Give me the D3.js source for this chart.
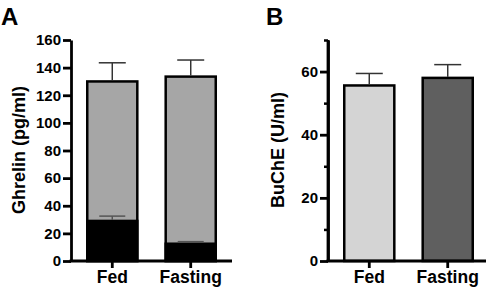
<!DOCTYPE html>
<html>
<head>
<meta charset="utf-8">
<script src="https://cdn.jsdelivr.net/npm/d3@7"></script>
<style>
  html, body { margin: 0; padding: 0; background: #fff; }
  svg { display: block; font-family: "Liberation Sans", Arial, sans-serif; }
</style>
</head>
<body>
<svg id="chart" width="490" height="290"></svg>
<script>
// ---- data ----
const categories = ["Fed", "Fasting"];
const ghrelinTotal = [130, 133.5];
const ghrelinTotalErr = [13.5, 12];
const ghrelinAcyl = [29, 12.5];
const ghrelinAcylErr = [3.5, 1.5];
const bucheValues = [55.6, 58];
const bucheErr = [3.8, 4.2];
const yTicksA = [0, 20, 40, 60, 80, 100, 120, 140, 160];
const yTicksB = [0, 20, 40, 60];
const yMinorTicksB = [10, 30, 50, 70];
const colorsA = ["#a6a6a6", "#000000"];
const colorsB = ["#d4d4d4", "#5f5f5f"];

const svg = d3.select("#chart");
const baseY = 261;

function styleAxis(g, w) {
  g.selectAll("path.domain").attr("stroke", "#000").attr("stroke-width", w);
  g.selectAll(".tick line").attr("stroke", "#000").attr("stroke-width", w);
  g.selectAll(".tick text").attr("fill", "#000").attr("font-weight", "bold")
    .attr("font-family", "'Liberation Sans', Arial, sans-serif");
}

function errorBar(g, cx, yTop, yBar, cap, color) {
  g.append("line").attr("x1", cx).attr("x2", cx).attr("y1", yBar).attr("y2", yTop)
    .attr("stroke", color).attr("stroke-width", 1.5);
  g.append("line").attr("x1", cx - cap / 2).attr("x2", cx + cap / 2).attr("y1", yTop).attr("y2", yTop)
    .attr("stroke", color).attr("stroke-width", 1.5);
}

// ---------------- Panel A ----------------
const axA = 71, xEndA = 232;
const yA = d3.scaleLinear().domain([0, 160]).range([baseY, 40]);
const xA = d3.scaleBand().domain(categories).range([86, 217]).paddingInner(0.33);
const gA = svg.append("g");

categories.forEach((c, i) => {
  const x0 = xA(c), bw = xA.bandwidth();
  gA.append("rect").attr("x", x0 + 1.25).attr("y", yA(ghrelinTotal[i]))
    .attr("width", bw - 2.5).attr("height", baseY - yA(ghrelinTotal[i]))
    .attr("fill", colorsA[0]).attr("stroke", "#000").attr("stroke-width", 2.5);
  gA.append("rect").attr("x", x0 + 1.25).attr("y", yA(ghrelinAcyl[i]))
    .attr("width", bw - 2.5).attr("height", baseY - yA(ghrelinAcyl[i]))
    .attr("fill", colorsA[1]).attr("stroke", "#000").attr("stroke-width", 2.5);
});
categories.forEach((c, i) => {
  const cx = xA(c) + xA.bandwidth() / 2;
  errorBar(gA, cx, yA(ghrelinTotal[i] + ghrelinTotalErr[i]), yA(ghrelinTotal[i]) - 1, 27, "#333");
  errorBar(gA, cx, yA(ghrelinAcyl[i] + ghrelinAcylErr[i]), yA(ghrelinAcyl[i]) - 1, 26, "#555");
});

const yAxisA = gA.append("g").attr("transform", `translate(${axA},0)`)
  .call(d3.axisLeft(yA).tickValues(yTicksA).tickSize(8).tickSizeOuter(0).tickPadding(2));
yAxisA.selectAll(".tick text").attr("font-size", 15);
styleAxis(yAxisA, 2.8);
gA.append("line").attr("x1", axA - 1.4).attr("x2", xEndA).attr("y1", baseY).attr("y2", baseY)
  .attr("stroke", "#000").attr("stroke-width", 2.8);
const xAxisA = gA.append("g").attr("transform", `translate(0,${baseY})`)
  .call(d3.axisBottom(xA).tickSize(7).tickPadding(3));
xAxisA.select("path.domain").remove();
xAxisA.selectAll(".tick text").attr("font-size", 17.5);
styleAxis(xAxisA, 2.8);

gA.append("text").attr("transform", `translate(25,150) rotate(-90)`)
  .attr("text-anchor", "middle").attr("font-size", 18).attr("font-weight", "bold")
  .text("Ghrelin (pg/ml)");
gA.append("text").attr("x", 1).attr("y", 25).attr("font-size", 24).attr("font-weight", "bold")
  .text("A");

// ---------------- Panel B ----------------
const axB = 328, xEndB = 486;
const yB = d3.scaleLinear().domain([0, 70]).range([baseY, 40]);
const xB = d3.scaleBand().domain(categories).range([343, 474]).paddingInner(0.33);
const gB = svg.append("g");

categories.forEach((c, i) => {
  const x0 = xB(c), bw = xB.bandwidth();
  gB.append("rect").attr("x", x0 + 1.25).attr("y", yB(bucheValues[i]))
    .attr("width", bw - 2.5).attr("height", baseY - yB(bucheValues[i]))
    .attr("fill", colorsB[i]).attr("stroke", "#000").attr("stroke-width", 2.5);
});
categories.forEach((c, i) => {
  const cx = xB(c) + xB.bandwidth() / 2;
  errorBar(gB, cx, yB(bucheValues[i] + bucheErr[i]), yB(bucheValues[i]) - 1, 27, "#333");
});

const yAxisB = gB.append("g").attr("transform", `translate(${axB},0)`)
  .call(d3.axisLeft(yB).tickValues(yTicksB).tickSize(8).tickSizeOuter(0).tickPadding(2));
yAxisB.selectAll(".tick text").attr("font-size", 15);
styleAxis(yAxisB, 2.8);
const yAxisBMinor = gB.append("g").attr("transform", `translate(${axB},0)`)
  .call(d3.axisLeft(yB).tickValues(yMinorTicksB).tickSize(4).tickFormat(""));
yAxisBMinor.select("path.domain").remove();
styleAxis(yAxisBMinor, 2.5);
gB.append("line").attr("x1", axB).attr("x2", axB).attr("y1", yB(70)).attr("y2", baseY)
  .attr("stroke", "#000").attr("stroke-width", 2.8);

gB.append("line").attr("x1", axB - 1.4).attr("x2", xEndB).attr("y1", baseY).attr("y2", baseY)
  .attr("stroke", "#000").attr("stroke-width", 2.8);
const xAxisB = gB.append("g").attr("transform", `translate(0,${baseY})`)
  .call(d3.axisBottom(xB).tickSize(7).tickPadding(3));
xAxisB.select("path.domain").remove();
xAxisB.selectAll(".tick text").attr("font-size", 17.5);
styleAxis(xAxisB, 2.8);

gB.append("text").attr("transform", `translate(284,150) rotate(-90)`)
  .attr("text-anchor", "middle").attr("font-size", 18).attr("font-weight", "bold")
  .text("BuChE (U/ml)");
gB.append("text").attr("x", 266).attr("y", 25).attr("font-size", 24).attr("font-weight", "bold")
  .text("B");
</script>
</body>
</html>
